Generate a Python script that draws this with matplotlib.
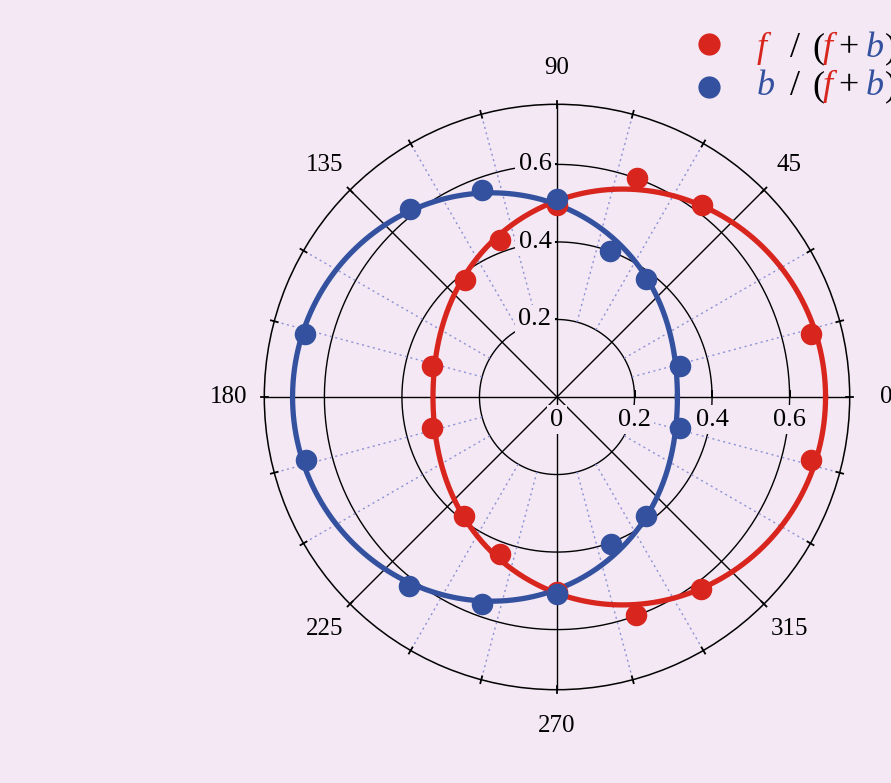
import numpy as np
import matplotlib.pyplot as plt
from matplotlib.lines import Line2D

# measurement azimuths (degrees)
angle_deg = np.array([14, 53, 70, 90, 110, 128, 166, 194, 232, 250, 270, 290, 307, 346])
# f/(f+b) at each azimuth
frac_f = np.array([0.675, 0.620, 0.600, 0.495, 0.431, 0.384, 0.331,
                   0.332, 0.388, 0.432, 0.503, 0.598, 0.619, 0.675])
# b/(f+b) at each azimuth
frac_b = np.array([0.328, 0.382, 0.402, 0.511, 0.568, 0.617, 0.670,
                   0.668, 0.618, 0.568, 0.508, 0.404, 0.383, 0.327])

r_ticks = [0.2, 0.4, 0.6]
r_max = 0.755
major_deg = list(range(0, 360, 45))
minor_deg = [a for a in range(0, 360, 15) if a % 45]

bg = '#f3e8f4'
red = '#d8251d'
blue = '#33519f'
dotc = '#8e92d4'
ink = '#000000'

plt.rcParams['font.family'] = ['Liberation Serif', 'DejaVu Serif']

W, H = 891, 783
fig = plt.figure(figsize=(W / 100, H / 100), dpi=100, facecolor=bg)
cx, cy, R = 557, 397, 292.7
ax = fig.add_axes([(cx - R) / W, (H - cy - R) / H, 2 * R / W, 2 * R / H],
                  projection='polar')
ax.set_facecolor(bg)
ax.set_ylim(0, r_max)
ax.set_xticks([])
ax.set_yticks([])
ax.grid(False)
ax.spines['polar'].set_linewidth(1.1)
ax.spines['polar'].set_color(ink)

# grid: circles, solid spokes, dotted spokes
th_full = np.linspace(0, 2 * np.pi, 500)
for r in r_ticks:
    ax.plot(th_full, np.full_like(th_full, r), color=ink, lw=1.0, zorder=1)
for a in major_deg:
    t = np.deg2rad(a)
    ax.plot([t, t], [0, r_max], color=ink, lw=1.0, zorder=1)
for a in minor_deg:
    t = np.deg2rad(a)
    ax.plot([t, t], [0.2, r_max], color=dotc, lw=1.0, ls=(0, (1.5, 2.5)), zorder=1)

# tick marks on the outer circle
for a in range(0, 360, 15):
    t = np.deg2rad(a)
    ax.plot([t, t], [r_max - 0.009, r_max + 0.009], color=ink, lw=1.3,
            clip_on=False, zorder=2)

# ticks along the 0 and 90 degree axes
d = 0.016
for base in (0, 90):
    b0 = np.deg2rad(base)
    for r in r_ticks:
        ax.plot([b0, b0 + np.arctan2(d, r)], [r, np.hypot(r, d)], color=ink,
                lw=1.4, zorder=2)

# angle labels
for a in major_deg:
    ax.text(np.deg2rad(a), 0.848, str(a), ha='center', va='center',
            fontsize=18, color=ink)

# radial labels
box = dict(fc=bg, ec='none', pad=2.5)
for r in r_ticks:
    ax.annotate(f'{r:.1f}', xy=(np.pi / 2, r), xytext=(-4, 0),
                textcoords='offset points', ha='right', va='center',
                fontsize=19, color=ink, bbox=box, zorder=2.5)
for r in [0] + r_ticks:
    lab = '0' if r == 0 else f'{r:.1f}'
    ax.annotate(lab, xy=(0, r), xytext=(0, -16.5), textcoords='offset points',
                ha='center', va='center', fontsize=19, color=ink, bbox=box,
                zorder=2.5)

# least-squares fit r = a + c*cos(theta) and the measured points
th = np.deg2rad(angle_deg)
A = np.column_stack([np.ones_like(th), np.cos(th)])
for frac, color in [(frac_f, red), (frac_b, blue)]:
    coef, *_ = np.linalg.lstsq(A, frac, rcond=None)
    ax.plot(th_full, coef[0] + coef[1] * np.cos(th_full), color=color,
            lw=3.8, zorder=3)
    ax.plot(th, frac, 'o', color=color, ms=15.5, mec='none', zorder=4)

# legend with coloured symbols
fs = 26


def put(x, y, s, color, style='normal'):
    fig.text(x / W, 1 - y / H, s, color=color, style=style, fontsize=fs,
             ha='left', va='baseline')


rows = [(44, 57, red, ('f', red, 757)),
        (87, 95, blue, ('b', blue, 757))]
for my, base_y, mcol, (s, col, x) in rows:
    fig.add_artist(Line2D([709 / W], [1 - my / H], marker='o', color=mcol,
                          ms=16, mec='none', transform=fig.transFigure))
    put(x, base_y, s, col, 'italic')
    put(790, base_y, '/', ink)
    put(812, base_y, '(', ink)
    put(823, base_y, 'f', red, 'italic')
    put(838, base_y, '+', ink)
    put(866, base_y, 'b', blue, 'italic')
    put(885, base_y, ')', ink)

fig.savefig('out.png', dpi=100, facecolor=bg)
